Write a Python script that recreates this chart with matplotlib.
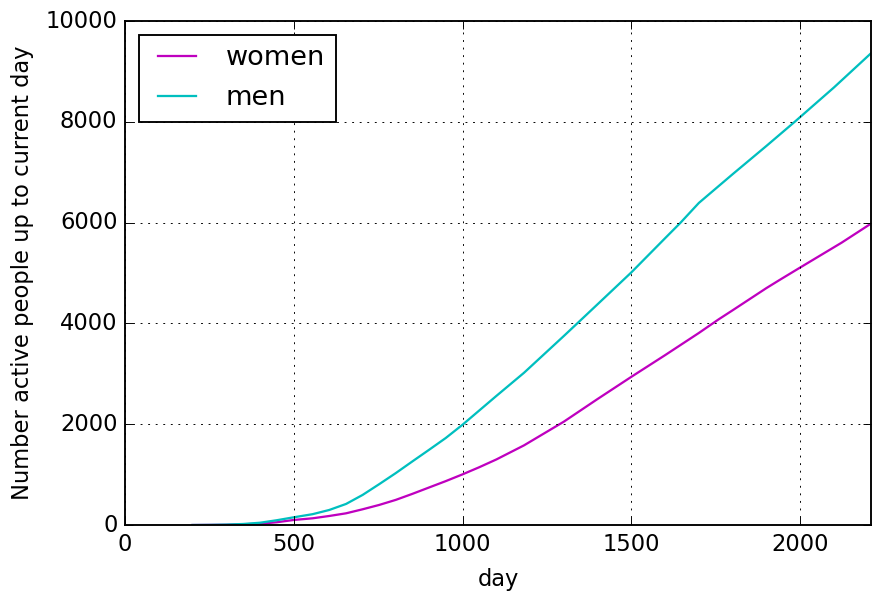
import matplotlib
matplotlib.use("Agg")
import matplotlib.pyplot as plt

plt.style.use('classic')

men_days = [200, 250, 300, 350, 400, 450, 500, 556, 605, 655, 704, 753, 802, 851, 901,
            950, 1000, 1100, 1182, 1300, 1355, 1400, 1500, 1600, 1646, 1700, 1800,
            1900, 1984, 2100, 2210]
men = [0, 2, 8, 20, 45, 95, 153, 215, 298, 418, 597, 810, 1029, 1260, 1493,
       1725, 1990, 2560, 3020, 3750, 4096, 4380, 5012, 5690, 6000, 6390, 6960,
       7520, 8000, 8680, 9360]

women_days = [200, 300, 400, 450, 500, 556, 605, 655, 704, 753, 802, 851, 901, 950,
              1000, 1049, 1100, 1182, 1300, 1400, 1500, 1600, 1700, 1759, 1800, 1900,
              1940, 2000, 2123, 2210]
women = [0, 5, 25, 55, 100, 133, 179, 232, 312, 398, 498, 617, 745, 870,
         1005, 1145, 1300, 1580, 2050, 2500, 2940, 3370, 3810, 4082, 4260, 4700,
         4865, 5108, 5602, 5980]

DPI = 136
fig = plt.figure(figsize=(872 / DPI, 593 / DPI), dpi=DPI)
ax = fig.add_axes([125 / 872, 1 - 525 / 593, (871 - 125) / 872, (525 - 21) / 593])
ax.plot(women_days, women, color='m', label='women', lw=1.2)
ax.plot(men_days, men, color='c', label='men', lw=1.2)
ax.set_xlim(0, 2210)
ax.set_ylim(0, 10000)
ax.set_xticks([0, 500, 1000, 1500, 2000])
ax.grid(True)
ax.set_xlabel('day', labelpad=6.5)
ax.set_ylabel('Number active people up to current day', labelpad=6)
ax.legend(loc='upper left')
fig.savefig('out.png', dpi=DPI)
